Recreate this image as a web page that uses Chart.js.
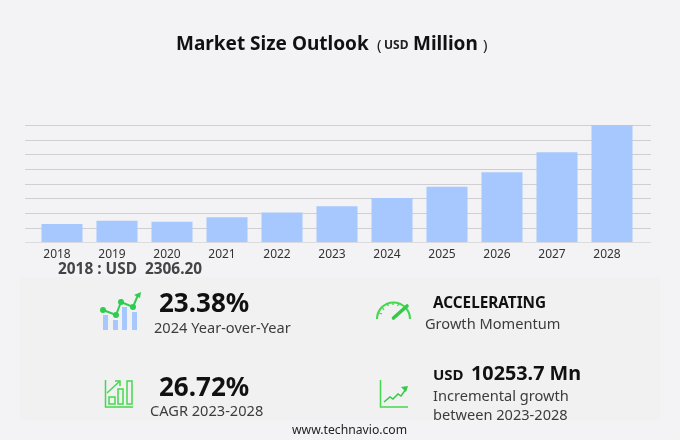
<!DOCTYPE html>
<html>
<head>
<meta charset="utf-8">
<script src="https://cdn.jsdelivr.net/npm/chart.js@4"></script>
<style>
    html, body { margin: 0; padding: 0; }
    body { width: 680px; height: 440px; background: #f3f3f5; position: relative; overflow: hidden; font-family: "Noto Sans", sans-serif; }
    #panel { position: absolute; left: 20px; top: 277px; width: 640px; height: 143px; background: #f1f1f2; }
    #chartBox { position: absolute; left: 0; top: 0; width: 680px; height: 265px; }
    #marketChart { display: block; }
    #icons { position: absolute; left: 0; top: 0; }
    .t { position: absolute; white-space: pre; line-height: 1; transform: translateY(-50%); }
    .big { font-weight: 700; font-size: 26px; color: #111; }
    .sub { font-size: 14.6px; color: #3c3c3c; }
</style>
</head>
<body>
<div id="panel"></div>
<div id="chartBox"><canvas id="marketChart" width="680" height="265"></canvas></div>

<svg id="icons" width="680" height="440" fill="none">
    <!-- year over year icon -->
    <g fill="#a6c8ff">
        <rect x="103" y="315" width="5" height="15"/>
        <rect x="113" y="320" width="5" height="10"/>
        <rect x="122" y="307" width="5" height="23"/>
        <rect x="132" y="312" width="5" height="18"/>
    </g>
    <polyline points="103,310 116,315 121,302 133,307 138,295" stroke="#2ecc50" stroke-width="2"/>
    <g fill="#2ecc50">
        <circle cx="103" cy="310" r="3"/><circle cx="116" cy="315" r="3"/>
        <circle cx="121" cy="302" r="3"/><circle cx="133" cy="307" r="3"/>
        <polygon points="141,292 134,295 140,298"/>
    </g>
    <!-- CAGR icon -->
    <g stroke="#45d84f" stroke-width="1.5">
        <polyline points="105.5,380 105.5,407 133,407"/>
        <rect x="109" y="397" width="6" height="7"/>
        <rect x="118" y="389" width="5" height="15"/>
        <rect x="127" y="381" width="5" height="23"/>
        <polyline points="107,393 120,381"/>
        <polyline points="115,381 120,381 120,386"/>
    </g>
    <!-- gauge icon -->
    <path d="M377 319 A16.5 16.5 0 0 1 410 319" stroke="#45d84f" stroke-width="2.2"/>
    <path d="M382 307 L384 310 M387 303.5 L388.5 306 M393 302 L393 305 M399 303.5 L397.5 306 M379 313 L382 314" stroke="#45d84f" stroke-width="1.3"/>
    <path d="M393.5 318 L407 306" stroke="#35c94a" stroke-width="3.6" stroke-linecap="round"/>
    <!-- incremental growth icon -->
    <polyline points="380.5,380 380.5,407 408,407" stroke="#45d84f" stroke-width="1.5"/>
    <polyline points="384,402 390,397 393,399 398,394 401,396 406,389" stroke="#35c94a" stroke-width="1.5"/>
    <polygon points="408,386 401,387 406,392" fill="#35c94a"/>
</svg>

<div class="t" style="left:176px;top:43px;font-size:19px;font-weight:700;color:#111;">Market Size Outlook</div>
<div class="t" style="left:377px;top:44px;font-size:15px;color:#222;">(</div>
<div class="t" style="left:384px;top:45px;font-size:12px;font-weight:700;color:#222;">USD</div>
<div class="t" style="left:413px;top:43px;font-size:19px;font-weight:700;color:#111;">Million</div>
<div class="t" style="left:483px;top:44px;font-size:15px;color:#222;">)</div>

<div class="t" style="left:58px;top:268.5px;font-size:15.4px;font-weight:700;color:#444;">2018 : USD  2306.20</div>

<div class="t big" style="left:159px;top:302px;">23.38%</div>
<div class="t sub" style="left:154px;top:327px;">2024 Year-over-Year</div>
<div class="t big" style="left:159px;top:386px;">26.72%</div>
<div class="t sub" style="left:150px;top:410px;">CAGR 2023-2028</div>

<div class="t" style="left:433px;top:302.5px;font-size:15.3px;font-weight:700;color:#111;">ACCELERATING</div>
<div class="t sub" style="left:425px;top:323px;">Growth Momentum</div>
<div class="t" style="left:433px;top:373.5px;font-size:15px;font-weight:700;color:#111;">USD</div>
<div class="t" style="left:471px;top:372.5px;font-size:19.8px;font-weight:700;color:#111;">10253.7 Mn</div>
<div class="t sub" style="left:433px;top:395px;">Incremental growth</div>
<div class="t sub" style="left:433px;top:414px;">between 2023-2028</div>

<div class="t" style="left:292px;top:430px;font-size:12.2px;color:#222;">www.technavio.com</div>

<script>
// Chart data
const years = ['2018', '2019', '2020', '2021', '2022', '2023', '2024', '2025', '2026', '2027', '2028'];
const marketSize = [2306.2, 2730, 2600, 3150, 3740, 4527, 5585, 7010, 8820, 11340, 14781];
const yMax = 14781;
const yStep = yMax / 8;

// Grid lines run wider than the category bands
const wideGrid = {
    id: 'wideGrid',
    beforeDatasetsDraw(chart) {
        const { ctx, scales: { y } } = chart;
        ctx.save();
        ctx.lineWidth = 1;
        y.ticks.forEach(tick => {
            const py = Math.round(y.getPixelForValue(tick.value)) + 0.5;
            ctx.strokeStyle = tick.value === 0 ? '#dcdcde' : '#cfcfd2';
            ctx.beginPath();
            ctx.moveTo(25, py);
            ctx.lineTo(651, py);
            ctx.stroke();
        });
        ctx.restore();
    }
};

new Chart(document.getElementById('marketChart'), {
    type: 'bar',
    data: {
        labels: years,
        datasets: [{
            data: marketSize,
            backgroundColor: '#a6c8ff',
            barPercentage: 41 / 55,
            categoryPercentage: 1
        }]
    },
    plugins: [wideGrid],
    options: {
        responsive: false,
        animation: false,
        layout: { padding: { top: 125, left: 34.5, right: 40.5, bottom: 0 } },
        plugins: { legend: { display: false }, title: { display: false }, tooltip: { enabled: false } },
        scales: {
            x: {
                grid: { display: false },
                border: { display: false },
                afterFit: scale => { scale.height = 22.7; },
                ticks: {
                    color: '#333',
                    font: { family: '"Noto Sans"', size: 12 },
                    labelOffset: -5,
                    padding: -2.5,
                    maxRotation: 0,
                    autoSkip: false
                }
            },
            y: {
                display: true,
                min: 0,
                max: yMax,
                grid: { display: false },
                border: { display: false },
                afterFit: scale => { scale.width = 0; },
                ticks: { display: false, stepSize: yStep }
            }
        }
    }
});
</script>
</body>
</html>
